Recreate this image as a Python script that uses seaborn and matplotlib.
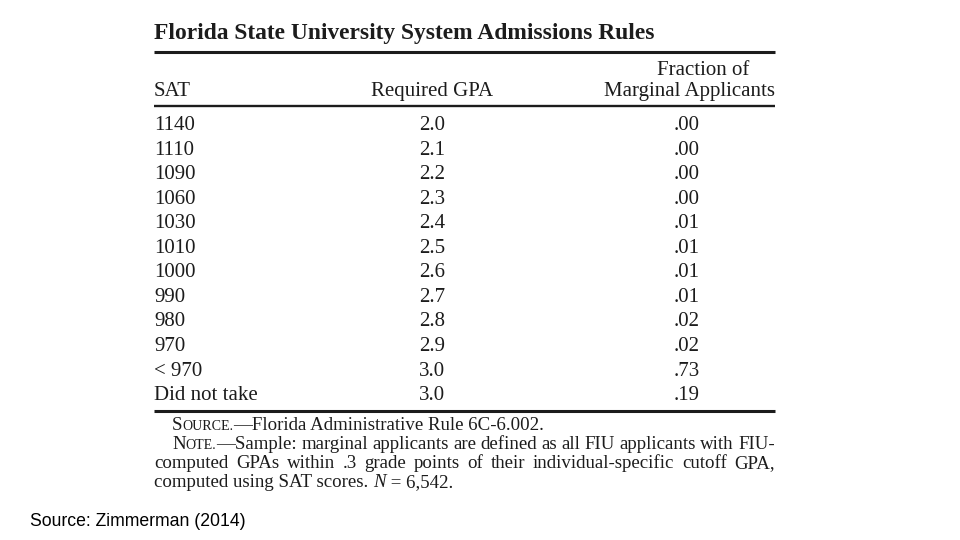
import matplotlib
matplotlib.use("Agg")
import matplotlib.pyplot as plt
import seaborn as sns

# ---------------- data ----------------
title = "Florida State University System Admissions Rules"
col_sat = "SAT"
col_gpa = "Required GPA"
col_frac = ["Fraction of", "Marginal Applicants"]
sat = ["1140", "1110", "1090", "1060", "1030", "1010", "1000", "990", "980", "970", "< 970", "Did not take"]
gpa = [2.0, 2.1, 2.2, 2.3, 2.4, 2.5, 2.6, 2.7, 2.8, 2.9, 3.0, 3.0]
frac = [0.00, 0.00, 0.00, 0.00, 0.01, 0.01, 0.01, 0.01, 0.02, 0.02, 0.73, 0.19]
source_label = "Source."
source_text = "\u2014Florida Administrative Rule 6C-6.002."
note_label = "Note."
note_lines = [
    "\u2014Sample: marginal applicants are defined as all FIU applicants with FIU-",
    "computed GPAs within .3 grade points of their individual-specific cutoff GPA,",
    "computed using SAT scores. ",
]
note_n = ["N", " = 6,542."]
credit = "Source: Zimmerman (2014)"

# ---------------- style ----------------
sns.set_theme(style="white")
plt.rcParams["font.family"] = ["Liberation Serif", "DejaVu Serif"]
INK = "#1c1c1c"

fig = plt.figure(figsize=(9.6, 5.4), dpi=100)
ax = fig.add_axes([0, 0, 1, 1])
ax.set_xlim(0, 960)
ax.set_ylim(540, 0)
ax.axis("off")
renderer = fig.canvas.get_renderer()

L, R = 154, 775
ROW_FS = 15
NOTE_FS = 13.6


def width(t):
    return t.get_window_extent(renderer).width


def runs(x, y, parts):
    """Draw a sequence of (text, size, style) runs starting at x."""
    for txt, fs, st in parts:
        t = ax.text(x, y, txt, fontsize=fs, style=st, color=INK, va="baseline", ha="left")
        x += width(t)
    return x


def small_caps(x, y, word, fs):
    parts = [(word[0], fs, "normal"), (word[1:].upper(), fs * 0.74, "normal")]
    return runs(x, y, parts)


def justify(x0, x1, y, text, fs):
    words = text.split(" ")
    objs = [ax.text(0, y, w, fontsize=fs, color=INK, va="baseline", ha="left") for w in words]
    ws = [width(o) for o in objs]
    gap = (x1 - x0 - sum(ws)) / (len(words) - 1)
    x = x0
    for o, w in zip(objs, ws):
        o.set_x(x)
        x += w + gap


# title
ax.text(L, 39, title, fontsize=16.9, fontweight="bold", color=INK, va="baseline", ha="left")

# rules
ax.plot([L, R], [52, 52], color=INK, lw=2.2, solid_capstyle="butt")
ax.plot([L, R], [106, 106], color=INK, lw=1.7, solid_capstyle="butt")
ax.plot([L, R], [411, 411], color=INK, lw=2.2, solid_capstyle="butt")

# headers
ax.text(L, 96, col_sat, fontsize=ROW_FS, color=INK, va="baseline", ha="left")
ax.text(432, 96, col_gpa, fontsize=ROW_FS, color=INK, va="baseline", ha="center")
ax.text(703, 75, col_frac[0], fontsize=ROW_FS, color=INK, va="baseline", ha="center")
ax.text(R, 96, col_frac[1], fontsize=ROW_FS, color=INK, va="baseline", ha="right")

# body
y0, dy = 130, 24.55
for i, (s, g, f) in enumerate(zip(sat, gpa, frac)):
    y = y0 + i * dy
    ax.text(L, y, s, fontsize=ROW_FS, color=INK, va="baseline", ha="left")
    ax.text(432, y, f"{g:.1f}", fontsize=ROW_FS, color=INK, va="baseline", ha="center")
    ax.text(700, y, f"{f:.2f}".lstrip("0"), fontsize=ROW_FS, color=INK, va="baseline", ha="right")

# source / note
xs = small_caps(172, 430, source_label, NOTE_FS)
runs(xs, 430, [(source_text, NOTE_FS, "normal")])

xn = small_caps(172, 449, note_label, NOTE_FS)
justify(xn, R, 449, note_lines[0], NOTE_FS)
justify(L, R, 468, note_lines[1], NOTE_FS)
runs(L, 487, [(note_lines[2], NOTE_FS, "normal"), (note_n[0], NOTE_FS, "italic"), (note_n[1], NOTE_FS, "normal")])

# credit
ax.text(30, 526, credit, fontsize=12.7, family="Liberation Sans", color="black", va="baseline", ha="left")

fig.savefig("out.png", dpi=100, facecolor="white")
